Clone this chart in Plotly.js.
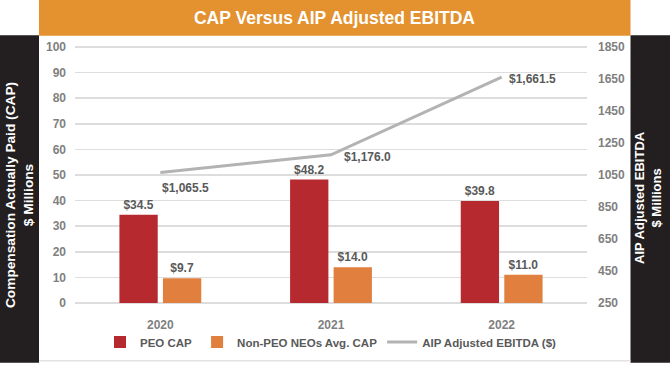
<!DOCTYPE html>
<html><head><meta charset="utf-8">
<script src="https://cdn.plot.ly/plotly-3.0.1.min.js"></script>
<style>html,body{margin:0;padding:0;background:#fff;}#chart{width:670px;height:369px;}</style>
</head><body><div id="chart"></div>
<script>
const years = ['2020', '2021', '2022'];
const peoCap = [34.5, 48.2, 39.8];
const nonPeoCap = [9.7, 14.0, 11.0];
const aipEbitda = [1065.5, 1176.0, 1661.5];
const leftTicks = [0, 10, 20, 30, 40, 50, 60, 70, 80, 90, 100];
const rightTicks = [250, 450, 650, 850, 1050, 1250, 1450, 1650, 1850];

const FONT = 'Liberation Sans, Arial, sans-serif';
const W = 670, H = 369, L = 75, R = 587, T = 46, B = 310;
const px = x => (x - L) / (R - L);
const py = y => (B - y) / (B - T);

const lblFont = {family: FONT, size: 12, color: '#595959', weight: 'bold'};
const tickFont = {family: FONT, size: 12, color: '#7f7f7f', weight: 'bold'};
const GRID = '#dddddd';

const traces = [
  {type: 'bar', name: 'PEO CAP', x: years, y: peoCap, marker: {color: '#b5292f'},
   texttemplate: '$%{y:.1f}', textposition: 'outside', textfont: lblFont, cliponaxis: false, hoverinfo: 'skip'},
  {type: 'bar', name: 'Non-PEO NEOs Avg. CAP', x: years, y: nonPeoCap, marker: {color: '#e07f3e'},
   texttemplate: '$%{y:.1f}', textposition: 'outside', textfont: lblFont, cliponaxis: false, hoverinfo: 'skip'},
  {type: 'scatter', mode: 'lines', name: 'AIP Adjusted EBITDA ($)', x: years, y: aipEbitda, yaxis: 'y2',
   line: {color: '#b3b3b3', width: 3}, hoverinfo: 'skip'}
];

const lineLabelShift = [[0, -15], [11, -2], [5, -2]];
const lineLabels = aipEbitda.map((v, i) => ({
  xref: 'x', yref: 'y2', x: i, y: v,
  text: '$' + v.toLocaleString('en-US', {minimumFractionDigits: 1, maximumFractionDigits: 1}),
  showarrow: false, xanchor: 'left', yanchor: 'middle',
  xshift: lineLabelShift[i][0], yshift: lineLabelShift[i][1], font: lblFont
}));

const layout = {
  width: W, height: H,
  margin: {l: L, r: W - R, t: T, b: H - B, pad: 0},
  paper_bgcolor: '#ffffff', plot_bgcolor: '#ffffff',
  showlegend: true,
  barmode: 'group', bargap: 0.49, bargroupgap: 0.12,
  title: {text: 'CAP Versus AIP Adjusted EBITDA', font: {family: FONT, size: 17.5, color: '#ffffff', weight: 'bold'},
          xref: 'paper', x: px(334.5), xanchor: 'center', yref: 'container', y: 1 - 17.5 / H, yanchor: 'middle'},
  xaxis: {type: 'category', categoryarray: years, range: [-0.5, 2.5], tickfont: tickFont, showgrid: false, zeroline: false, showline: false, ticks: '',
          ticklabelstandoff: 12},
  yaxis: {range: [-0.4, 100.4], tickmode: 'array', tickvals: leftTicks, tickfont: tickFont, showgrid: true, gridcolor: GRID, gridwidth: 1.5,
          zeroline: true, zerolinecolor: GRID, zerolinewidth: 1.5, showline: false, ticks: '', ticklabelstandoff: 8},
  yaxis2: {range: [243.6, 1856.4], tickmode: 'array', tickvals: rightTicks, overlaying: 'y', side: 'right', tickfont: tickFont,
           showgrid: false, zeroline: false, showline: false, ticks: '', ticklabelstandoff: 10},
  legend: {orientation: 'h', x: 0.5, xanchor: 'center', y: py(349), yanchor: 'middle',
           font: {family: FONT, size: 11.5, color: '#595959', weight: 'bold'},
           itemwidth: 30, tracegroupgap: 0, bgcolor: 'rgba(0,0,0,0)'},
  shapes: [
    {type: 'rect', layer: 'below', xref: 'paper', yref: 'paper', x0: px(0), x1: px(39), y0: py(370), y1: py(35), fillcolor: '#231f20', line: {width: 0}},
    {type: 'rect', layer: 'below', xref: 'paper', yref: 'paper', x0: px(630.5), x1: px(671), y0: py(370), y1: py(35), fillcolor: '#231f20', line: {width: 0}},
    {type: 'rect', layer: 'below', xref: 'paper', yref: 'paper', x0: px(39), x1: px(630.5), y0: py(35.5), y1: py(-1), fillcolor: '#e3922f', line: {width: 0}},
    {type: 'line', layer: 'below', xref: 'paper', yref: 'paper', x0: px(39), x1: px(630.5), y0: py(368), y1: py(368), line: {color: '#e3e3e3', width: 1.5}}
  ],
  annotations: [
    {xref: 'paper', yref: 'paper', x: px(19.5), y: py(199), text: 'Compensation Actually Paid (CAP)<br>$ Millions', textangle: -90,
     showarrow: false, align: 'center', font: {family: FONT, size: 13.7, color: '#ffffff', weight: 'bold'}, xanchor: 'center', yanchor: 'middle'},
    {xref: 'paper', yref: 'paper', x: px(648.5), y: py(201), text: 'AIP Adjusted EBITDA<br>$ Millions', textangle: -90,
     showarrow: false, align: 'center', font: {family: FONT, size: 13, color: '#ffffff', weight: 'bold'}, xanchor: 'center', yanchor: 'middle'}
  ].concat(lineLabels)
};

Plotly.newPlot('chart', traces, layout, {displayModeBar: false, staticPlot: true});
</script>
</body></html>
